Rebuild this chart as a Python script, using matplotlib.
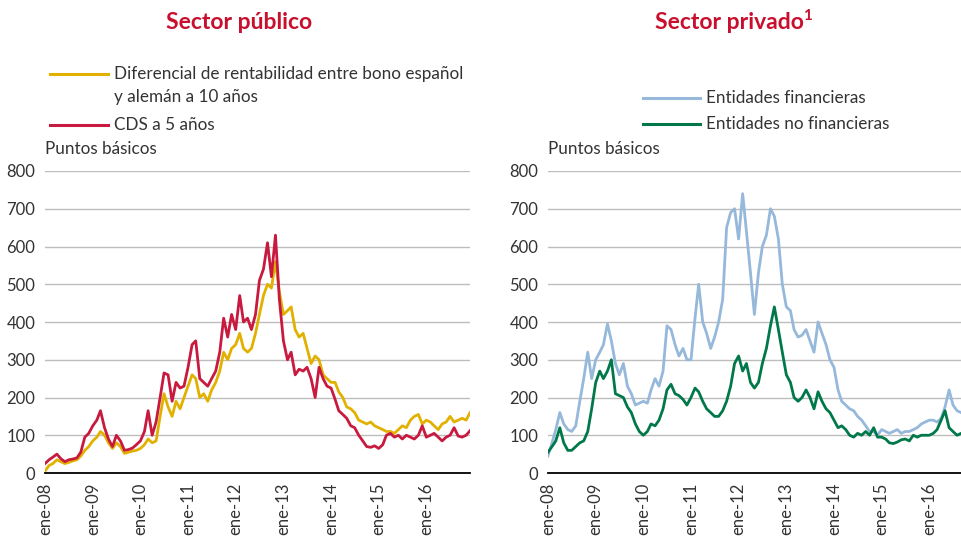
import matplotlib.pyplot as plt
from matplotlib.lines import Line2D
import pandas as pd

plt.rcParams['font.family'] = ['Lato', 'DejaVu Sans']

# monthly readings, Jan 2008 - Dec 2016 (basis points)
fechas = pd.date_range('2008-01-01', periods=108, freq='MS')

diferencial = [5, 20, 25, 35, 30, 25, 28, 32, 35, 45, 60, 70,
               85, 95, 110, 100, 80, 65, 80, 70, 52, 55, 58, 60,
               65, 75, 90, 80, 85, 150, 210, 175, 150, 190, 170, 200,
               230, 260, 250, 200, 210, 190, 220, 240, 270, 320, 300, 330,
               340, 370, 330, 320, 330, 370, 420, 470, 500, 490, 560, 480,
               420, 430, 440, 380, 360, 370, 330, 290, 310, 300, 260, 250,
               240, 240, 215, 200, 175, 170, 160, 140, 135, 130, 135, 125,
               120, 115, 110, 110, 105, 115, 125, 120, 140, 150, 155, 130,
               140, 135, 125, 115, 130, 135, 150, 135, 140, 145, 140, 160]

cds = [25, 35, 42, 50, 38, 30, 35, 37, 40, 55, 95, 105,
       125, 140, 165, 120, 90, 70, 100, 85, 60, 62, 66, 75,
       85, 110, 165, 100, 135, 200, 265, 260, 190, 240, 225, 230,
       280, 340, 350, 250, 240, 230, 250, 270, 320, 410, 360, 420,
       380, 470, 400, 410, 380, 420, 510, 540, 610, 520, 630, 460,
       350, 300, 320, 260, 275, 270, 280, 250, 200, 280, 250, 230,
       225, 195, 165, 155, 145, 125, 120, 100, 85, 70, 68, 72,
       65, 75, 100, 105, 95, 100, 90, 100, 95, 90, 100, 125,
       95, 100, 105, 95, 85, 95, 100, 120, 98, 95, 100, 112]

financieras = [45, 80, 115, 160, 130, 115, 110, 125, 190, 250, 320, 250,
               300, 320, 340, 395, 350, 290, 260, 290, 230, 210, 180, 185,
               190, 185, 220, 250, 230, 270, 390, 380, 340, 310, 330, 300,
               300, 410, 500, 400, 370, 330, 360, 400, 460, 650, 690, 700,
               620, 740, 640, 530, 420, 530, 600, 630, 700, 680, 620, 500,
               440, 430, 380, 360, 365, 380, 350, 320, 400, 370, 340, 300,
               280, 220, 190, 180, 170, 165, 150, 140, 125, 110, 110, 100,
               115, 110, 105, 110, 115, 105, 110, 110, 115, 120, 130, 135,
               140, 140, 135, 145, 175, 220, 180, 165, 160, 155, 155, 160]

no_financieras = [55, 70, 85, 120, 80, 60, 60, 70, 80, 85, 110, 170,
                  240, 270, 250, 270, 300, 210, 205, 200, 175, 160, 130, 110,
                  100, 110, 130, 125, 140, 170, 220, 235, 210, 205, 195, 180,
                  200, 225, 215, 190, 170, 160, 150, 150, 165, 190, 230, 290,
                  310, 270, 290, 240, 225, 240, 290, 330, 390, 440, 380, 320,
                  260, 240, 200, 190, 200, 220, 200, 170, 215, 190, 170, 160,
                  140, 120, 125, 115, 100, 95, 105, 100, 110, 100, 120, 95,
                  95, 90, 80, 78, 82, 88, 90, 85, 100, 95, 100, 100,
                  100, 105, 115, 140, 165, 120, 110, 100, 105, 110, 105, 100]

ticks = pd.date_range('2008-01-01', '2016-01-01', freq='YS')
tick_labels = ['ene-%02d' % (t.year % 100) for t in ticks]

titulo_color = '#C8102E'
texto = '#333333'
c_dif = '#E2B100'
c_cds = '#C8193F'
c_fin = '#95B8DB'
c_nofin = '#00784A'

fig = plt.figure(figsize=(9.62, 5.57), dpi=100)
ax1 = fig.add_axes([0.0468, 0.1508, 0.4418, 0.5422])
ax2 = fig.add_axes([0.5696, 0.1508, 0.4304, 0.5422])


def estilo(ax, xfin):
    ax.set_ylim(0, 800)
    ax.set_yticks(range(0, 801, 100))
    ax.set_xlim(pd.Timestamp('2008-01-01'), pd.Timestamp(xfin))
    ax.set_xticks(ticks)
    ax.set_xticklabels(tick_labels, rotation=90)
    ax.grid(axis='y', color='#BDBDBD', linewidth=1)
    ax.set_axisbelow(True)
    for s in ['top', 'right', 'left']:
        ax.spines[s].set_visible(False)
    ax.spines['bottom'].set_color('black')
    ax.spines['bottom'].set_linewidth(1.3)
    ax.spines['bottom'].set_zorder(5)
    ax.tick_params(length=0, labelsize=12, labelcolor=texto, pad=7)
    ax.text(0, 1.045, 'Puntos básicos', transform=ax.transAxes,
            fontsize=12.3, color=texto, ha='left', va='bottom')


def clave(x0, x1, y, color, etiqueta):
    fig.add_artist(Line2D([x0, x1], [y, y], transform=fig.transFigure,
                          color=color, linewidth=2.2))
    fig.text(x1 + 0.006, y, etiqueta, fontsize=12.3, color=texto,
             ha='left', va='center')


ax1.plot(fechas, diferencial, color=c_dif, linewidth=2)
ax1.plot(fechas, cds, color=c_cds, linewidth=2)
estilo(ax1, '2016-12-01')

ax2.plot(fechas, financieras, color=c_fin, linewidth=2)
ax2.plot(fechas, no_financieras, color=c_nofin, linewidth=2)
estilo(ax2, '2016-09-08')

# legends
clave(0.052, 0.1123, 0.8671, c_dif, 'Diferencial de rentabilidad entre bono español')
fig.text(0.1185, 0.8259, 'y alemán a 10 años', fontsize=12.3, color=texto,
         ha='left', va='center')
clave(0.052, 0.1123, 0.7756, c_cds, 'CDS a 5 años')
clave(0.6684, 0.7277, 0.8241, c_fin, 'Entidades financieras')
clave(0.6684, 0.7277, 0.7774, c_nofin, 'Entidades no financieras')

fig.text(0.248, 0.959, 'Sector público', color=titulo_color, fontsize=16.5,
         fontweight='bold', ha='center', va='center')
fig.text(0.758, 0.959, 'Sector privado', color=titulo_color, fontsize=16.5,
         fontweight='bold', ha='center', va='center')
fig.text(0.8345, 0.972, '1', color=titulo_color, fontsize=11,
         fontweight='bold', ha='left', va='center')

fig.savefig('out.png', dpi=100)
